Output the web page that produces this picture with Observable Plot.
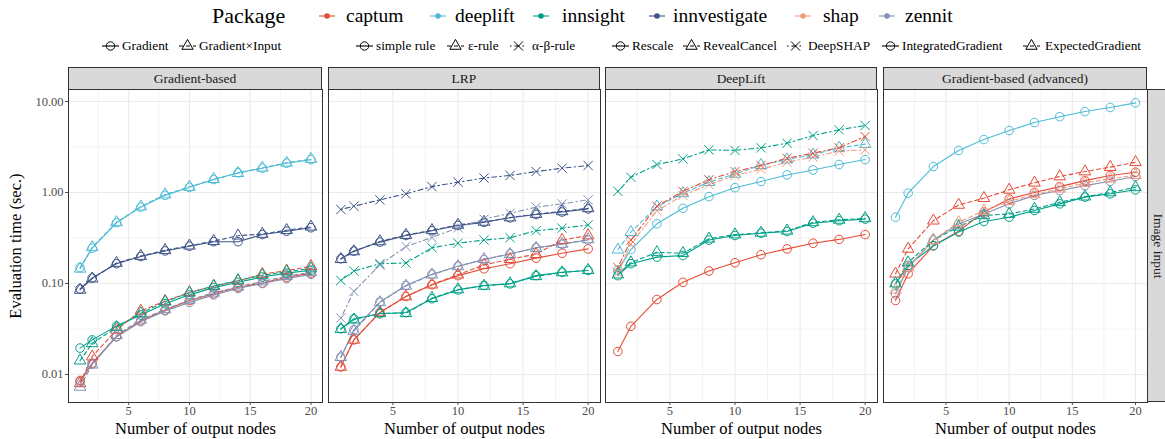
<!DOCTYPE html>
<html><head><meta charset="utf-8">
<script src="https://cdn.jsdelivr.net/npm/d3@7"></script>
<script src="https://cdn.jsdelivr.net/npm/@observablehq/plot@0.6"></script>
<style>
body{margin:0;background:#fff;}
#chart{position:relative;width:1165px;height:439px;font-family:"Liberation Serif","Times New Roman",serif;font-weight:normal;color:#000;overflow:hidden;background:#fff;}
.abs{position:absolute;white-space:nowrap;line-height:1;font-weight:normal;}
.strip{position:absolute;background:#D9D9D9;border:1px solid #333;box-sizing:border-box;font-size:13.5px;font-weight:normal;color:#1A1A1A;display:flex;align-items:center;justify-content:center;white-space:nowrap;}
.plotbox{position:absolute;}
</style></head><body><div id="chart"></div>
<script>
// ---------- categories / ticks ----------
const nodes = [1, 2, 4, 6, 8, 10, 12, 14, 16, 18, 20];
const packages = ["captum", "deeplift", "innsight", "innvestigate", "shap", "zennit"];
const packageColors = ["#E64B35", "#4DBBD5", "#00A087", "#3C5488", "#F39B7F", "#8491B4"];
const facets = ["Gradient-based", "LRP", "DeepLift", "Gradient-based (advanced)"];
const rowStrip = "Image input";
const legendTitle = "Package";
const xTitle = "Number of output nodes";
const yTitle = "Evaluation time (sec.)";
const xTicks = [5, 10, 15, 20];
const xMinorTicks = [2.5, 7.5, 12.5, 17.5];
const yTicks = [0.01, 0.1, 1, 10];
const yMinorTicks = [0.031623, 0.31623, 3.1623];

const gradMethods = ["Gradient", "Gradient×Input"];
const lrpMethods = ["simple rule", "ε-rule", "α-β-rule"];
const deepliftMethods = ["Rescale", "RevealCancel", "DeepSHAP"];
const advMethods = ["IntegratedGradient", "ExpectedGradient"];
const solidCircleMethods = ["Gradient", "simple rule", "Rescale", "IntegratedGradient"];
const dashedTriangleMethods = ["Gradient×Input", "ε-rule", "RevealCancel", "ExpectedGradient"];
const dotdashTimesMethods = ["α-β-rule", "DeepSHAP"];

// ---------- series values (seconds) ----------
// Gradient-based
const grad_deeplift_G   = [0.150, 0.244, 0.465, 0.69, 0.93, 1.14, 1.39, 1.65, 1.85, 2.10, 2.30];
const grad_deeplift_GxI = [0.145, 0.250, 0.470, 0.70, 0.95, 1.15, 1.40, 1.63, 1.87, 2.12, 2.33];
const grad_innvest_G    = [0.087, 0.115, 0.165, 0.198, 0.228, 0.257, 0.288, 0.288, 0.345, 0.375, 0.41];
const grad_innvest_GxI  = [0.085, 0.113, 0.168, 0.200, 0.232, 0.260, 0.292, 0.335, 0.350, 0.385, 0.42];
const grad_innsight_G   = [0.0195, 0.024, 0.034, 0.045, 0.060, 0.075, 0.090, 0.103, 0.118, 0.130, 0.140];
const grad_innsight_GxI = [0.0142, 0.022, 0.033, 0.047, 0.063, 0.079, 0.094, 0.108, 0.123, 0.135, 0.146];
const grad_captum_G     = [0.0086, 0.0133, 0.026, 0.039, 0.051, 0.065, 0.077, 0.091, 0.101, 0.117, 0.130];
const grad_captum_GxI   = [0.0080, 0.0157, 0.031, 0.050, 0.064, 0.080, 0.093, 0.107, 0.127, 0.138, 0.155];
const grad_zennit_G     = [0.0083, 0.0130, 0.026, 0.038, 0.050, 0.062, 0.075, 0.088, 0.100, 0.113, 0.126];
const grad_zennit_GxI   = [0.0073, 0.0128, 0.027, 0.040, 0.052, 0.066, 0.079, 0.092, 0.105, 0.120, 0.133];
// LRP
const lrp_captum_simple = [0.0121, 0.024, 0.048, 0.072, 0.097, 0.122, 0.145, 0.165, 0.190, 0.215, 0.240];
const lrp_captum_eps    = [0.0121, 0.024, 0.048, 0.072, 0.097, 0.125, 0.160, 0.185, 0.210, 0.300, 0.337];
const lrp_innsight_simple = [0.0318, 0.041, 0.0465, 0.048, 0.068, 0.085, 0.095, 0.099, 0.122, 0.133, 0.139];
const lrp_innsight_eps    = [0.0315, 0.040, 0.047, 0.047, 0.069, 0.086, 0.094, 0.100, 0.120, 0.132, 0.140];
const lrp_innsight_ab     = [0.108, 0.137, 0.165, 0.168, 0.247, 0.277, 0.300, 0.318, 0.380, 0.405, 0.440];
const lrp_innvest_simple  = [0.187, 0.227, 0.285, 0.337, 0.380, 0.434, 0.470, 0.527, 0.573, 0.610, 0.660];
const lrp_innvest_eps     = [0.185, 0.225, 0.290, 0.340, 0.385, 0.440, 0.475, 0.530, 0.580, 0.620, 0.670];
const lrp_innvest_ab      = [0.650, 0.707, 0.830, 0.967, 1.16, 1.30, 1.44, 1.54, 1.70, 1.85, 1.98];
const lrp_zennit_simple   = [0.0155, 0.031, 0.0625, 0.095, 0.126, 0.155, 0.183, 0.212, 0.247, 0.270, 0.300];
const lrp_zennit_eps      = [0.0155, 0.030, 0.062, 0.094, 0.125, 0.154, 0.185, 0.210, 0.245, 0.272, 0.305];
const lrp_zennit_ab       = [0.0417, 0.0817, 0.160, 0.255, 0.320, 0.410, 0.510, 0.590, 0.690, 0.750, 0.830];
// DeepLift
const dl_captum_rescale   = [0.0179, 0.0338, 0.0667, 0.103, 0.137, 0.169, 0.207, 0.240, 0.277, 0.305, 0.345];
const dl_captum_shap      = [0.150, 0.300, 0.707, 1.03, 1.38, 1.70, 1.98, 2.38, 2.70, 3.10, 4.12];
const dl_deeplift_rescale = [0.140, 0.236, 0.453, 0.67, 0.90, 1.13, 1.32, 1.56, 1.77, 2.03, 2.30];
const dl_deeplift_reveal  = [0.235, 0.367, 0.700, 0.98, 1.30, 1.60, 2.00, 2.30, 2.60, 3.10, 3.40];
const dl_innsight_rescale = [0.122, 0.165, 0.195, 0.203, 0.300, 0.337, 0.357, 0.373, 0.460, 0.490, 0.510];
const dl_innsight_reveal  = [0.125, 0.170, 0.220, 0.215, 0.310, 0.345, 0.360, 0.380, 0.470, 0.500, 0.520];
const dl_innsight_shap    = [1.03, 1.47, 2.03, 2.34, 2.94, 2.90, 3.10, 3.48, 4.23, 4.88, 5.45];
const dl_shap_shap        = [0.130, 0.270, 0.630, 0.93, 1.22, 1.54, 1.80, 2.15, 2.45, 2.85, 2.94];
// Gradient-based (advanced)
const adv_captum_ig   = [0.065, 0.128, 0.260, 0.376, 0.610, 0.850, 1.00, 1.16, 1.35, 1.54, 1.67];
const adv_captum_eg   = [0.128, 0.240, 0.490, 0.730, 0.866, 1.07, 1.28, 1.50, 1.70, 1.90, 2.15];
const adv_deeplift_ig = [0.535, 0.983, 1.93, 2.90, 3.82, 4.80, 5.87, 6.80, 7.75, 8.60, 9.66];
const adv_innsight_ig = [0.099, 0.158, 0.260, 0.367, 0.480, 0.535, 0.634, 0.750, 0.890, 0.967, 1.07];
const adv_innsight_eg = [0.100, 0.170, 0.300, 0.420, 0.560, 0.580, 0.660, 0.780, 0.900, 1.00, 1.14];
const adv_shap_eg     = [0.085, 0.150, 0.300, 0.470, 0.630, 0.800, 0.950, 1.10, 1.27, 1.42, 1.55];
const adv_zennit_ig   = [0.077, 0.150, 0.300, 0.450, 0.580, 0.750, 0.930, 1.05, 1.19, 1.33, 1.50];

const seriesTable = [
  ["Gradient-based", "captum", "Gradient", grad_captum_G],
  ["Gradient-based", "captum", "Gradient×Input", grad_captum_GxI],
  ["Gradient-based", "deeplift", "Gradient", grad_deeplift_G],
  ["Gradient-based", "deeplift", "Gradient×Input", grad_deeplift_GxI],
  ["Gradient-based", "innsight", "Gradient", grad_innsight_G],
  ["Gradient-based", "innsight", "Gradient×Input", grad_innsight_GxI],
  ["Gradient-based", "innvestigate", "Gradient", grad_innvest_G],
  ["Gradient-based", "innvestigate", "Gradient×Input", grad_innvest_GxI],
  ["Gradient-based", "zennit", "Gradient", grad_zennit_G],
  ["Gradient-based", "zennit", "Gradient×Input", grad_zennit_GxI],
  ["LRP", "captum", "simple rule", lrp_captum_simple],
  ["LRP", "captum", "ε-rule", lrp_captum_eps],
  ["LRP", "innsight", "simple rule", lrp_innsight_simple],
  ["LRP", "innsight", "ε-rule", lrp_innsight_eps],
  ["LRP", "innsight", "α-β-rule", lrp_innsight_ab],
  ["LRP", "innvestigate", "simple rule", lrp_innvest_simple],
  ["LRP", "innvestigate", "ε-rule", lrp_innvest_eps],
  ["LRP", "innvestigate", "α-β-rule", lrp_innvest_ab],
  ["LRP", "zennit", "simple rule", lrp_zennit_simple],
  ["LRP", "zennit", "ε-rule", lrp_zennit_eps],
  ["LRP", "zennit", "α-β-rule", lrp_zennit_ab],
  ["DeepLift", "captum", "Rescale", dl_captum_rescale],
  ["DeepLift", "captum", "DeepSHAP", dl_captum_shap],
  ["DeepLift", "deeplift", "Rescale", dl_deeplift_rescale],
  ["DeepLift", "deeplift", "RevealCancel", dl_deeplift_reveal],
  ["DeepLift", "innsight", "Rescale", dl_innsight_rescale],
  ["DeepLift", "innsight", "RevealCancel", dl_innsight_reveal],
  ["DeepLift", "innsight", "DeepSHAP", dl_innsight_shap],
  ["DeepLift", "shap", "DeepSHAP", dl_shap_shap],
  ["Gradient-based (advanced)", "captum", "IntegratedGradient", adv_captum_ig],
  ["Gradient-based (advanced)", "captum", "ExpectedGradient", adv_captum_eg],
  ["Gradient-based (advanced)", "deeplift", "IntegratedGradient", adv_deeplift_ig],
  ["Gradient-based (advanced)", "innsight", "IntegratedGradient", adv_innsight_ig],
  ["Gradient-based (advanced)", "innsight", "ExpectedGradient", adv_innsight_eg],
  ["Gradient-based (advanced)", "shap", "ExpectedGradient", adv_shap_eg],
  ["Gradient-based (advanced)", "zennit", "IntegratedGradient", adv_zennit_ig]
];

// ---------- layout (pixels) ----------
const PLOT_TOP = 89, PLOT_BOTTOM = 402, STRIP_TOP = 67;
const panelX = [[68, 322], [328, 600], [605, 877], [883, 1147]];
const pkgLegendX = [[327, 346], [438, 455], [541, 562], [657, 673], [803, 823], [887, 905]];
const methodLegendX = [[110, 122], [187.5, 199], [364, 376], [455, 468], [518, 532], [620, 632], [691, 703], [795, 808], [890, 902], [1031, 1045]];
const ROW1_Y = 16, ROW2_Y = 46;

// ---------- build rows ----------
const rows = [];
for (const [facet, pkg, method, values] of seriesTable) {
  values.forEach((v, i) => rows.push({facet, pkg, method, n: nodes[i], t: v}));
}
const styles = [
  {methods: solidCircleMethods, symbol: "circle", dash: null},
  {methods: dashedTriangleMethods, symbol: "triangle", dash: "4,3"},
  {methods: dotdashTimesMethods, symbol: "times", dash: "1.5,3,5,3"}
];

const chart = document.getElementById("chart");
function addText(txt, x, y, size, extra = {}) {
  const d = document.createElement("div");
  d.className = "abs";
  d.textContent = txt;
  d.style.left = x + "px";
  d.style.top = y + "px";
  d.style.fontSize = size + "px";
  d.style.transform = "translateY(-50%)";
  Object.assign(d.style, extra);
  chart.appendChild(d);
  return d;
}
function addKey(cx, cy, w, h, draw) {
  const svg = d3.create("svg").attr("width", w).attr("height", h)
    .style("position", "absolute").style("left", (cx - w / 2) + "px").style("top", (cy - h / 2) + "px")
    .style("overflow", "visible");
  draw(svg, w, h);
  chart.appendChild(svg.node());
}

// Row 1: package legend
addText(legendTitle, 212, ROW1_Y, 22);
packages.forEach((p, i) => {
  const [sx, tx] = pkgLegendX[i];
  addKey(sx, ROW1_Y, 16, 10, (svg, w, h) => {
    svg.append("line").attr("x1", 0).attr("x2", w).attr("y1", h / 2).attr("y2", h / 2)
      .attr("stroke", packageColors[i]).attr("stroke-width", 1.1);
    svg.append("circle").attr("cx", w / 2).attr("cy", h / 2).attr("r", 2.8).attr("fill", packageColors[i]);
  });
  addText(p, tx, ROW1_Y, 19.5);
});

// Row 2: method legends
const allMethods = [...gradMethods, ...lrpMethods, ...deepliftMethods, ...advMethods];
allMethods.forEach((m, i) => {
  const [sx, tx] = methodLegendX[i];
  const st = styles.find(s => s.methods.includes(m));
  addKey(sx, ROW2_Y, 17, 14, (svg, w, h) => {
    const ln = svg.append("line").attr("x1", 0).attr("x2", w).attr("y1", h / 2).attr("y2", h / 2)
      .attr("stroke", "#000").attr("stroke-width", 1.1);
    if (st.dash) ln.attr("stroke-dasharray", st.dash);
    const symMap = {circle: d3.symbolCircle, triangle: d3.symbolTriangle, times: d3.symbolTimes};
    svg.append("path").attr("transform", `translate(${w / 2},${h / 2})`)
      .attr("d", d3.symbol(symMap[st.symbol], Math.PI * 4.2 * 4.2)())
      .attr("fill", "none").attr("stroke", "#000").attr("stroke-width", 1);
  });
  addText(m, tx, ROW2_Y, 13.3);
});

// Strips
facets.forEach((f, fi) => {
  const [x0, x1] = panelX[fi];
  const s = document.createElement("div");
  s.className = "strip";
  s.style.left = x0 + "px";
  s.style.top = STRIP_TOP + "px";
  s.style.width = (x1 - x0) + "px";
  s.style.height = (PLOT_TOP - STRIP_TOP + 1) + "px";
  s.textContent = f;
  chart.appendChild(s);
});
{
  const s = document.createElement("div");
  s.className = "strip";
  s.style.left = panelX[3][1] + "px";
  s.style.top = PLOT_TOP + "px";
  s.style.width = "22px";
  s.style.height = (PLOT_BOTTOM - PLOT_TOP) + "px";
  const t = document.createElement("span");
  t.textContent = rowStrip;
  t.style.transform = "rotate(90deg)";
  t.style.display = "inline-block";
  s.appendChild(t);
  chart.appendChild(s);
}

// Panels
facets.forEach((facet, fi) => {
  const [x0, x1] = panelX[fi];
  const first = fi === 0;
  const ml = first ? x0 : 2, mr = 2, mt = 2, mb = 439 - PLOT_BOTTOM;
  const width = ml + (x1 - x0) + mr;
  const height = mt + (PLOT_BOTTOM - PLOT_TOP) + mb;
  const data = rows.filter(d => d.facet === facet);
  const gridStyle = {stroke: "#EBEBEB", strokeOpacity: 1};
  const marks = [
    Plot.gridX(xMinorTicks, {...gridStyle, strokeWidth: 0.6}),
    Plot.gridY(yMinorTicks, {...gridStyle, strokeWidth: 0.6}),
    Plot.gridX(xTicks, {...gridStyle, strokeWidth: 1.1}),
    Plot.gridY(yTicks, {...gridStyle, strokeWidth: 1.1})
  ];
  for (const st of styles) {
    const sub = data.filter(d => st.methods.includes(d.method));
    if (!sub.length) continue;
    const opts = {x: "n", y: "t", z: d => d.pkg + "|" + d.method, stroke: "pkg", strokeWidth: 1.1};
    if (st.dash) opts.strokeDasharray = st.dash;
    marks.push(Plot.line(sub, opts));
  }
  for (const st of styles) {
    const sub = data.filter(d => st.methods.includes(d.method));
    if (!sub.length) continue;
    marks.push(Plot.dot(sub, {x: "n", y: "t", stroke: "pkg", symbol: st.symbol, r: 4.3, fill: "none", strokeWidth: 1}));
  }
  marks.push(
    Plot.frame({stroke: "#333", strokeWidth: 1}),
    Plot.axisX(xTicks, {anchor: "bottom", tickSize: 3, tickPadding: 1, fontSize: 12.5, color: "#4D4D4D", label: null}),
    Plot.text([xTitle], {frameAnchor: "bottom", dy: 26, lineAnchor: "middle", textAnchor: "middle", fontSize: 16.5, text: d => d, fill: "#000"})
  );
  if (first) {
    marks.push(
      Plot.axisY(yTicks, {anchor: "left", tickSize: 3, tickPadding: 2, fontSize: 12.5, color: "#4D4D4D", tickFormat: d3.format(".2f"), label: null}),
      Plot.text([yTitle], {frameAnchor: "left", dx: -53, rotate: -90, lineAnchor: "middle", textAnchor: "middle", fontSize: 16.5, text: d => d, fill: "#000"})
    );
  }
  const svg = Plot.plot({
    width, height,
    marginLeft: ml, marginRight: mr, marginTop: mt, marginBottom: mb,
    x: {type: "linear", domain: [0.05, 20.95], axis: null},
    y: {type: "log", domain: [0.00492, 13.55], axis: null},
    color: {domain: packages, range: packageColors},
    style: {fontFamily: "Liberation Serif, serif", fontSize: "13px", fontWeight: "normal", background: "transparent", overflow: "visible", maxWidth: "none"},
    marks
  });
  const box = document.createElement("div");
  box.className = "plotbox";
  box.style.left = (x0 - ml) + "px";
  box.style.top = (PLOT_TOP - mt) + "px";
  box.appendChild(svg);
  chart.appendChild(box);
});
</script>
</body></html>
